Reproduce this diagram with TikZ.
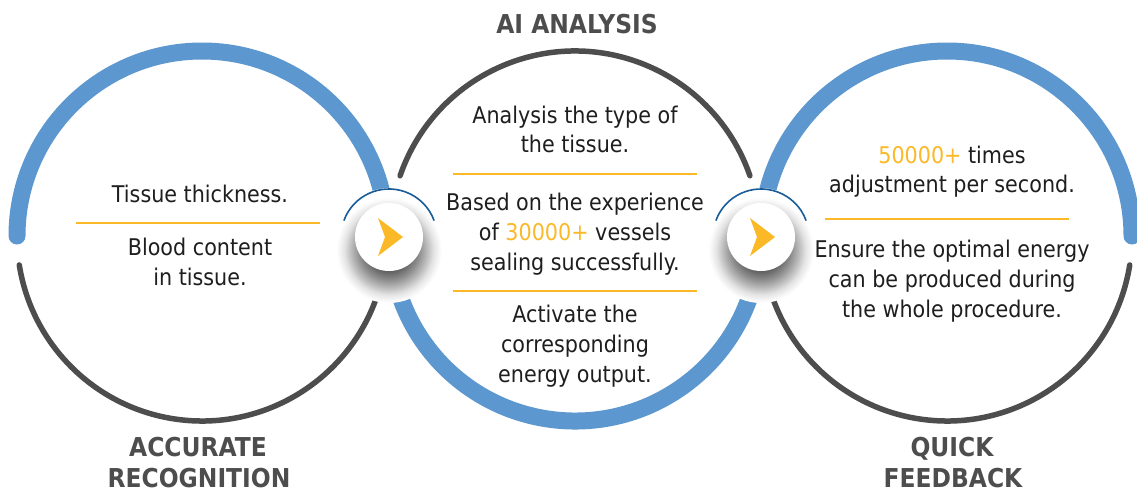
\documentclass[tikz,border=0pt]{standalone}
\usepackage{fontspec}
\setmainfont{DejaVu Sans}[FakeStretch=0.9]
\definecolor{cblue}{RGB}{92,152,207}
\definecolor{cgray}{RGB}{77,77,77}
\definecolor{cdark}{RGB}{24,92,152}
\definecolor{cyel}{RGB}{251,185,40}
\definecolor{ctext}{RGB}{30,30,30}
\pgfdeclareradialshading{halo}{\pgfpoint{0bp}{0bp}}{%
 color(0bp)=(black!72); color(10bp)=(black!62); color(14bp)=(black!45);
 color(18bp)=(black!26); color(21bp)=(black!11); color(24bp)=(black!2); color(25bp)=(white); color(50bp)=(white)}
\tikzset{
 arcblue/.style={draw=cblue, line width=17pt, line cap=round},
 arcgray/.style={draw=cgray, line width=5.5pt, line cap=round},
 sepline/.style={draw=cyel, line width=2pt},
 body/.style={anchor=base, inner sep=0pt, text=ctext, font=\fontsize{23}{30}\selectfont},
 head/.style={anchor=base, inner sep=0pt, text=cgray, font=\fontsize{26}{31}\selectfont\bfseries},
 conn/.style={circle, fill=white, minimum size=68pt, inner sep=0pt},
 thinarc/.style={draw=cdark, line width=1.6pt},
 arrowfill/.style={fill=cyel},
}
\begin{document}
\begin{tikzpicture}[x=1pt,y=-1pt]
\useasboundingbox[fill=white] (0,0) rectangle (1137,490);
% circle centres
\coordinate (L) at (202,236);
\coordinate (M) at (575,236);
\coordinate (R) at (947,236);
% left circle
\draw[arcblue] ([shift={(180:185)}]L) arc[start angle=180, end angle=360, radius=185];
\draw[arcgray] ([shift={(9:185)}]L) arc[start angle=9, end angle=171, radius=185];
% middle circle
\draw[arcgray] ([shift={(199:185)}]M) arc[start angle=199, end angle=341, radius=185];
\draw[arcblue] ([shift={(10:185)}]M) arc[start angle=10, end angle=170, radius=185];
% right circle
\draw[arcblue] ([shift={(180:185)}]R) arc[start angle=180, end angle=360, radius=185];
\draw[arcgray] ([shift={(9:185)}]R) arc[start angle=9, end angle=171, radius=185];
% connectors
\foreach \n/\cx in {c1/389, c2/761}{
  \fill[white] (\cx,238) circle[radius=50];
  \shade[shading=halo] (\cx,250) circle[radius=53];
  \node[conn] (\n) at (\cx,237) {};
  \draw[thinarc] ([shift={(200:48)}]\n.center) arc[start angle=200, end angle=340, radius=48];
  \fill[arrowfill] ([shift={(14,0)}]\n.center) -- ([shift={(-11,-19)}]\n.center)
     -- ([shift={(-4,0)}]\n.center) -- ([shift={(-11,19)}]\n.center) -- cycle;
}
% left texts
\node[body] (l1) at (200,202) {Tissue thickness.};
\draw[sepline] (76,223) -- (320,223);
\node[body] (l2) at (200,255) {Blood content};
\node[body] (l3) at (200,285) {in tissue.};
% middle texts
\node[body] (m1) at (575,123) {Analysis the type of};
\node[body] (m2) at (575,152) {the tissue.};
\draw[sepline] (453,174) -- (697,174);
\node[body] (m3) at (575,210) {Based on the experience};
\node[body] (m4) at (575,240) {of {\color{cyel}30000+} vessels};
\node[body] (m5) at (575,270) {sealing successfully.};
\draw[sepline] (453,291) -- (697,291);
\node[body] (m6) at (575,322) {Activate the};
\node[body] (m7) at (575,352) {corresponding};
\node[body] (m8) at (575,382) {energy output.};
% right texts
\node[body] (r1) at (952,163) {{\color{cyel}50000+} times};
\node[body] (r2) at (952,192) {adjustment per second.};
\draw[sepline] (825,219) -- (1069,219);
\node[body] (r3) at (952,257) {Ensure the optimal energy};
\node[body] (r4) at (952,287) {can be produced during};
\node[body] (r5) at (952,317) {the whole procedure.};
% headings
\node[head] (h1) at (577,33) {AI ANALYSIS};
\node[head] (h2) at (198,456) {ACCURATE};
\node[head] (h3) at (199,487) {RECOGNITION};
\node[head] (h4) at (952,456) {QUICK};
\node[head] (h5) at (953,487) {FEEDBACK};
\end{tikzpicture}
\end{document}
